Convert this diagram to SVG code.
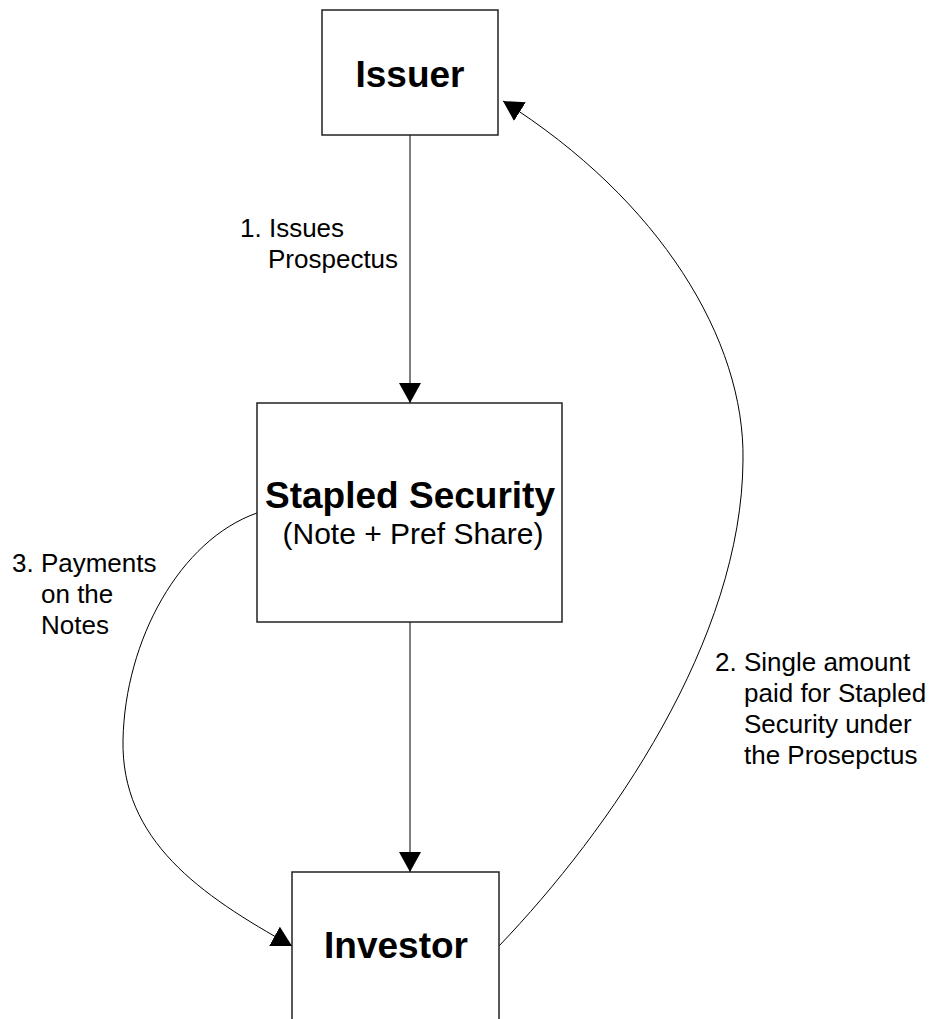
<svg xmlns="http://www.w3.org/2000/svg" width="934" height="1019" viewBox="0 0 934 1019">
  <style>
    .box { fill: #ffffff; stroke: #222222; stroke-width: 1.5; }
    .title { font-family: "Liberation Sans", Arial, sans-serif; font-weight: bold; font-size: 37px; fill: #000000; text-anchor: middle; }
    .sub { font-family: "Liberation Sans", Arial, sans-serif; font-size: 30px; fill: #000000; text-anchor: middle; }
    .label { font-family: "Liberation Sans", Arial, sans-serif; font-size: 26px; fill: #000000; }
    .conn { fill: none; stroke: #000000; stroke-width: 1; }
  </style>
  <defs>
    <marker id="arrow" viewBox="0 0 20 22" markerUnits="userSpaceOnUse" markerWidth="20" markerHeight="22" refX="20" refY="11" orient="auto">
      <path d="M0,0 L20,11 L0,22 Z" fill="#000000"/>
    </marker>
  </defs>
  <rect width="934" height="1019" fill="#ffffff"/>

  <!-- connectors -->
  <g id="connectors">
    <path class="conn" d="M410,135 L410,403" marker-end="url(#arrow)"/>
    <path class="conn" d="M410,622 L410,872" marker-end="url(#arrow)"/>
    <path class="conn" d="M257,513 C180,540 125,640 123,740 C121,840 200,895 292,946" marker-end="url(#arrow)"/>
    <path class="conn" d="M499,946 C610,830 742,640 743,460 C745,340 660,200 503,101" marker-end="url(#arrow)"/>
  </g>

  <!-- nodes -->
  <g id="issuer">
    <rect class="box" x="322" y="10" width="176" height="125"/>
    <text class="title" x="410" y="87">Issuer</text>
  </g>
  <g id="stapled-security">
    <rect class="box" x="257" y="403" width="305" height="219"/>
    <text class="title" x="410" y="508">Stapled Security</text>
    <text class="sub" x="413" y="544">(Note + Pref Share)</text>
  </g>
  <g id="investor">
    <rect class="box" x="292" y="872" width="207" height="200"/>
    <text class="title" x="396" y="958">Investor</text>
  </g>

  <!-- connector labels -->
  <g id="labels">
    <text class="label" x="240" y="237">1. Issues</text>
    <text class="label" x="268" y="268">Prospectus</text>
    <text class="label" x="12" y="572">3. Payments</text>
    <text class="label" x="41" y="603">on the</text>
    <text class="label" x="41" y="634">Notes</text>
    <text class="label" x="715" y="671">2. Single amount</text>
    <text class="label" x="744" y="702">paid for Stapled</text>
    <text class="label" x="744" y="733">Security under</text>
    <text class="label" x="744" y="764">the Prosepctus</text>
  </g>
</svg>
